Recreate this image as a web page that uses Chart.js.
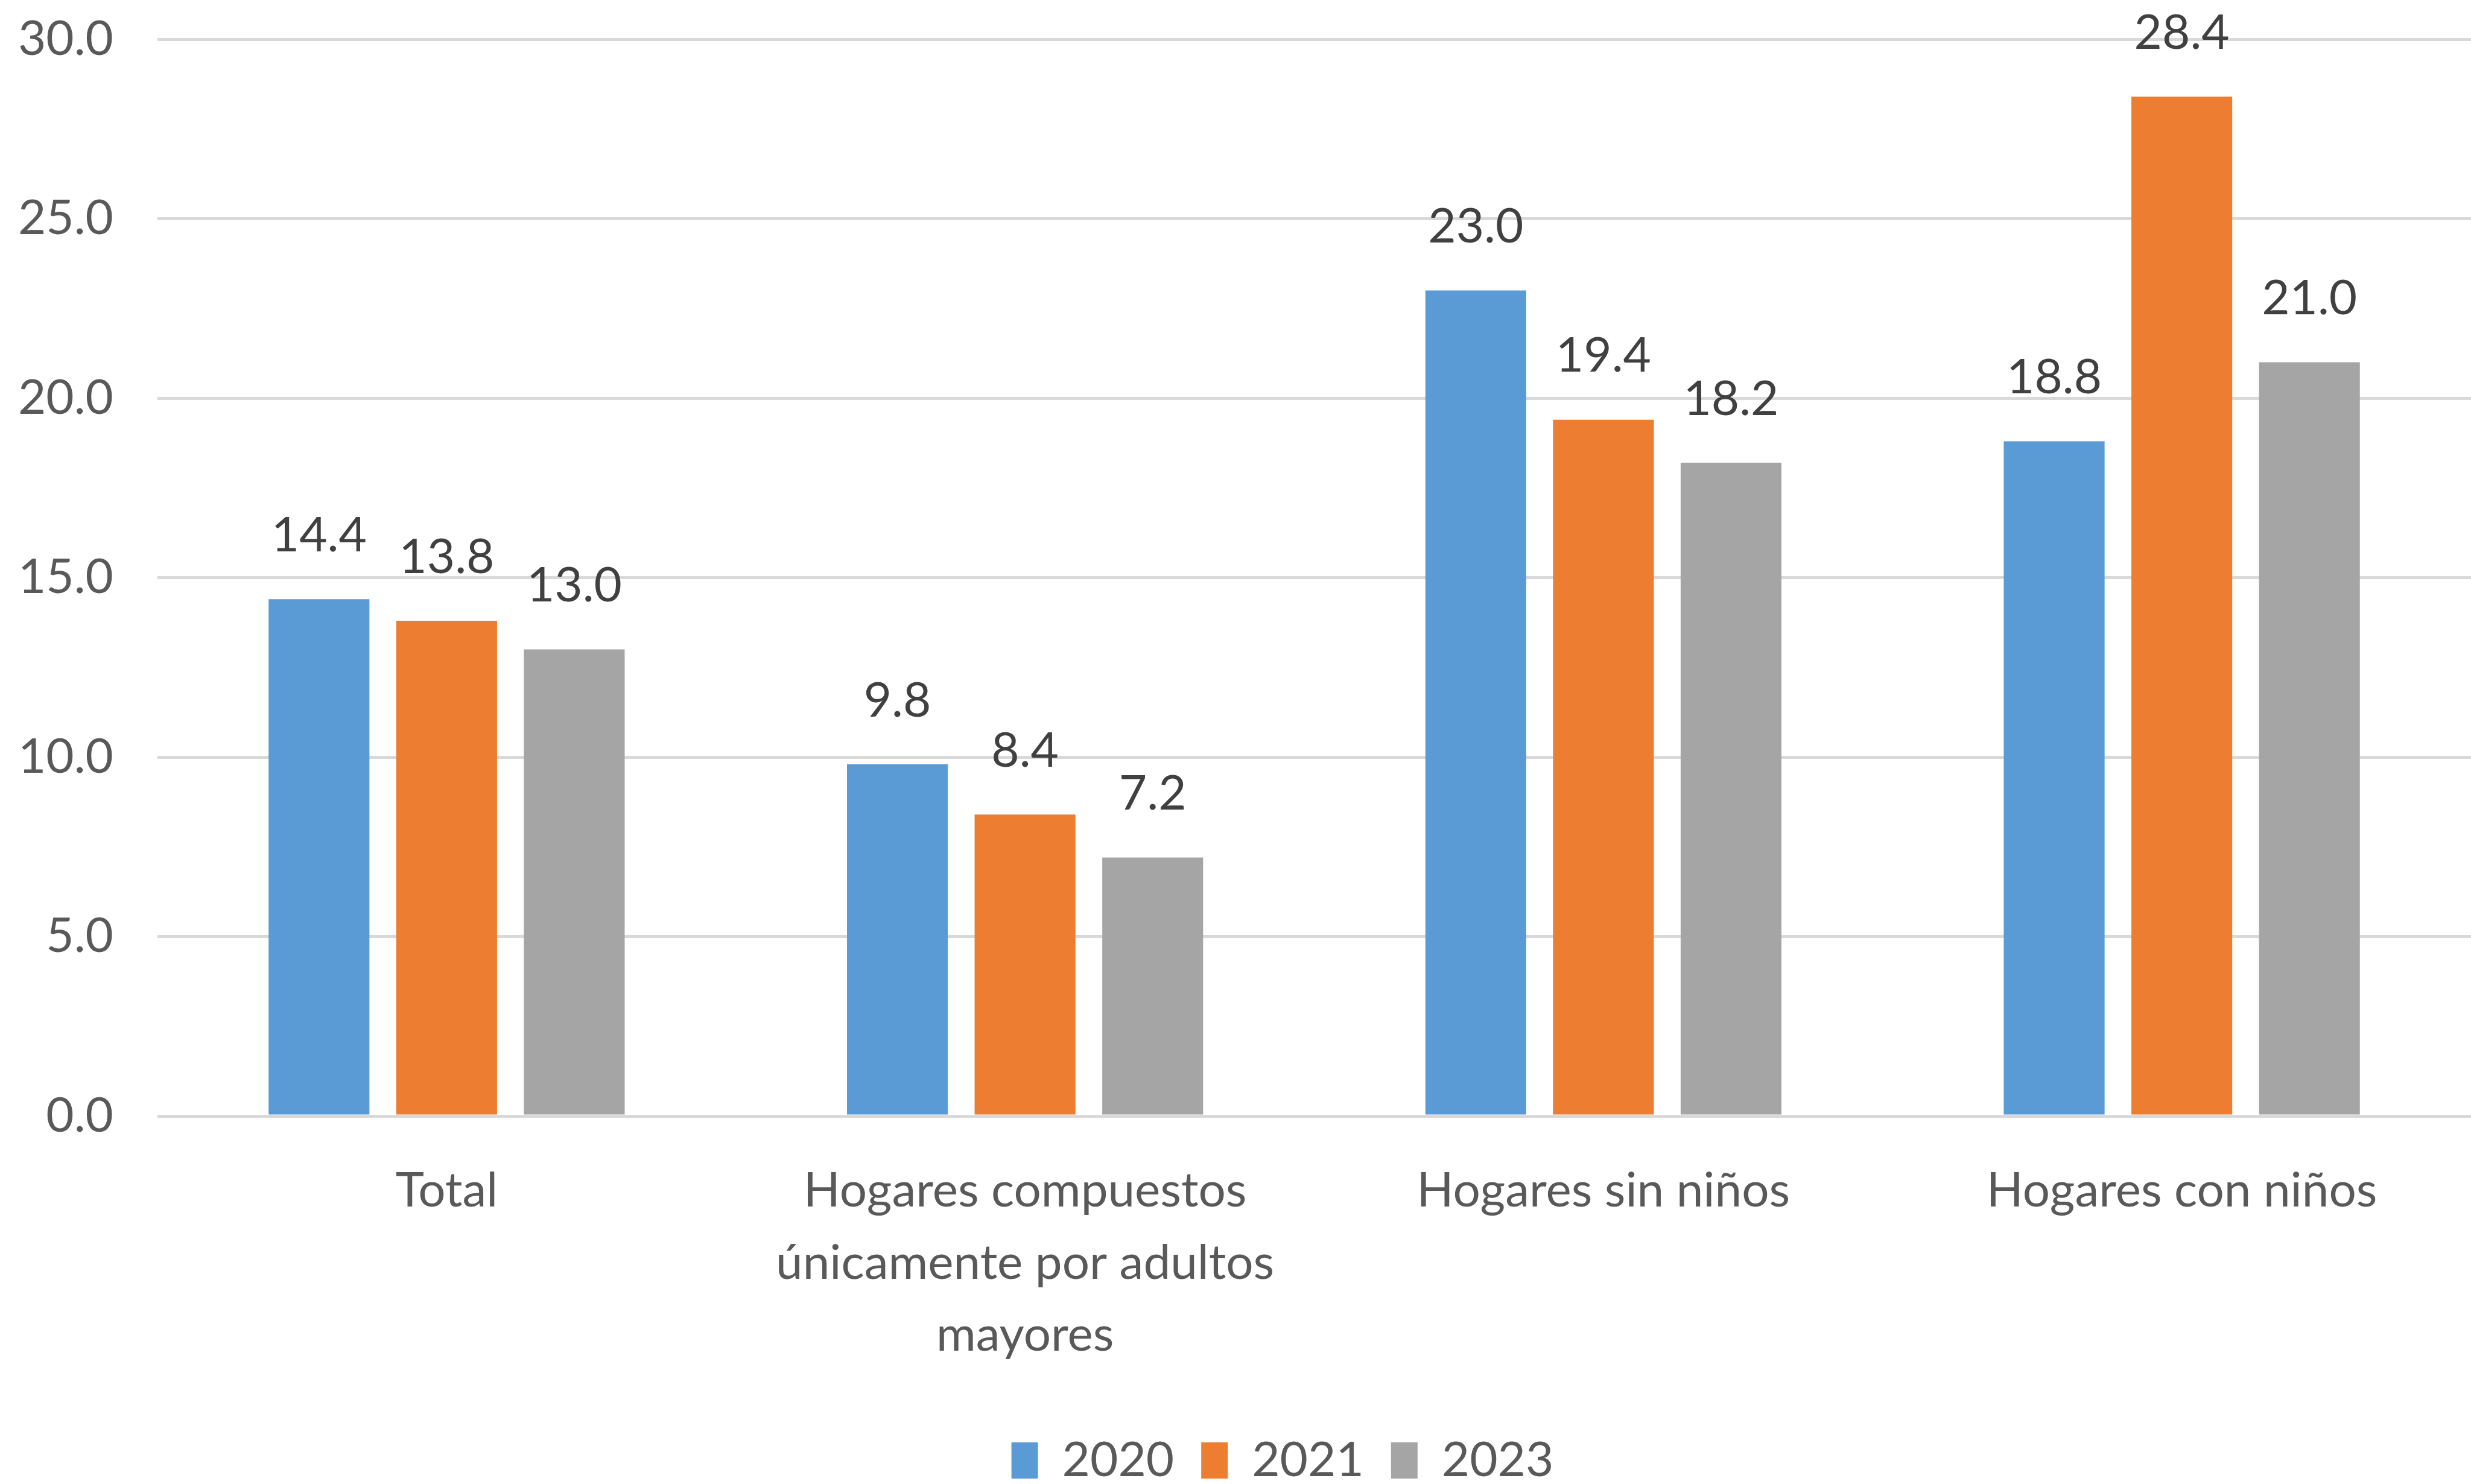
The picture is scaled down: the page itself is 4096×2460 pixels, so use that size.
<!DOCTYPE html>
<html>
<head>
<meta charset="utf-8">
<script src="https://cdn.jsdelivr.net/npm/chart.js@4.4.1/dist/chart.umd.min.js"></script>
<style>
  html, body { margin: 0; padding: 0; background: #fff; }
</style>
</head>
<body>
<canvas id="chart" width="4096" height="2460"></canvas>
<script>
const categories = [
  'Total',
  ['Hogares compuestos', 'únicamente por adultos', 'mayores'],
  'Hogares sin niños',
  'Hogares con niños'
];
const seriesNames = ['2020', '2021', '2023'];
const values2020 = [14.4, 9.8, 23.0, 18.8];
const values2021 = [13.8, 8.4, 19.4, 28.4];
const values2023 = [13.0, 7.2, 18.2, 21.0];
const yTicks = [0, 5, 10, 15, 20, 25, 30];

const COLORS = ['#5B9BD5', '#ED7D31', '#A5A5A5'];
const FONT = 'Lato, "Open Sans", sans-serif';
const TEXT = '#595959';
const SIZE = 80;

// value labels above each bar
const barLabels = {
  id: 'barLabels',
  afterDatasetsDraw(chart) {
    const ctx = chart.ctx;
    ctx.save();
    ctx.font = SIZE + 'px ' + FONT;
    ctx.fillStyle = '#404040';
    ctx.textAlign = 'center';
    ctx.textBaseline = 'middle';
    chart.data.datasets.forEach((ds, i) => {
      chart.getDatasetMeta(i).data.forEach((bar, j) => {
        ctx.fillText(ds.data[j].toFixed(1), bar.x, bar.y - 105);
      });
    });
    ctx.restore();
  }
};

// legend sits a bit right of the page centre in the original
const legendShift = {
  id: 'legendShift',
  afterLayout(chart) {
    chart.legend.left += 78;
    chart.legend.right += 78;
  }
};

new Chart(document.getElementById('chart'), {
  type: 'bar',
  data: {
    labels: categories,
    datasets: [values2020, values2021, values2023].map((vals, i) => ({
      label: seriesNames[i],
      data: vals,
      backgroundColor: COLORS[i],
      categoryPercentage: 0.662,
      barPercentage: 0.79
    }))
  },
  options: {
    responsive: false,
    animation: false,
    devicePixelRatio: 1,
    layout: { padding: { top: 65, right: 0, left: 0, bottom: 0 } },
    plugins: {
      tooltip: { enabled: false },
      legend: {
        position: 'bottom',
        maxHeight: 124,
        labels: {
          boxWidth: 44,
          boxHeight: 60,
          padding: 45,
          color: TEXT,
          font: { family: FONT, size: SIZE }
        }
      }
    },
    scales: {
      x: {
        grid: { display: false },
        border: { display: false },
        ticks: {
          color: TEXT,
          font: { family: FONT, size: SIZE, lineHeight: 1.49 },
          padding: 57,
          maxRotation: 0,
          autoSkip: false
        },
        afterFit(scale) {
          scale.height = 486;
          scale.paddingLeft = 0;
          scale.paddingRight = 0;
        }
      },
      y: {
        min: 0,
        max: 30,
        afterBuildTicks(scale) { scale.ticks = yTicks.map(v => ({ value: v })); },
        grid: { color: '#D9D9D9', lineWidth: 5, drawTicks: false },
        border: { display: false },
        ticks: {
          color: TEXT,
          font: { family: FONT, size: SIZE },
          padding: 73,
          callback: v => v.toFixed(1)
        },
        afterFit(scale) {
          scale.width = 261;
          scale.paddingTop = 0;
          scale.paddingBottom = 0;
        }
      }
    }
  },
  plugins: [barLabels, legendShift]
});
</script>
</body>
</html>
